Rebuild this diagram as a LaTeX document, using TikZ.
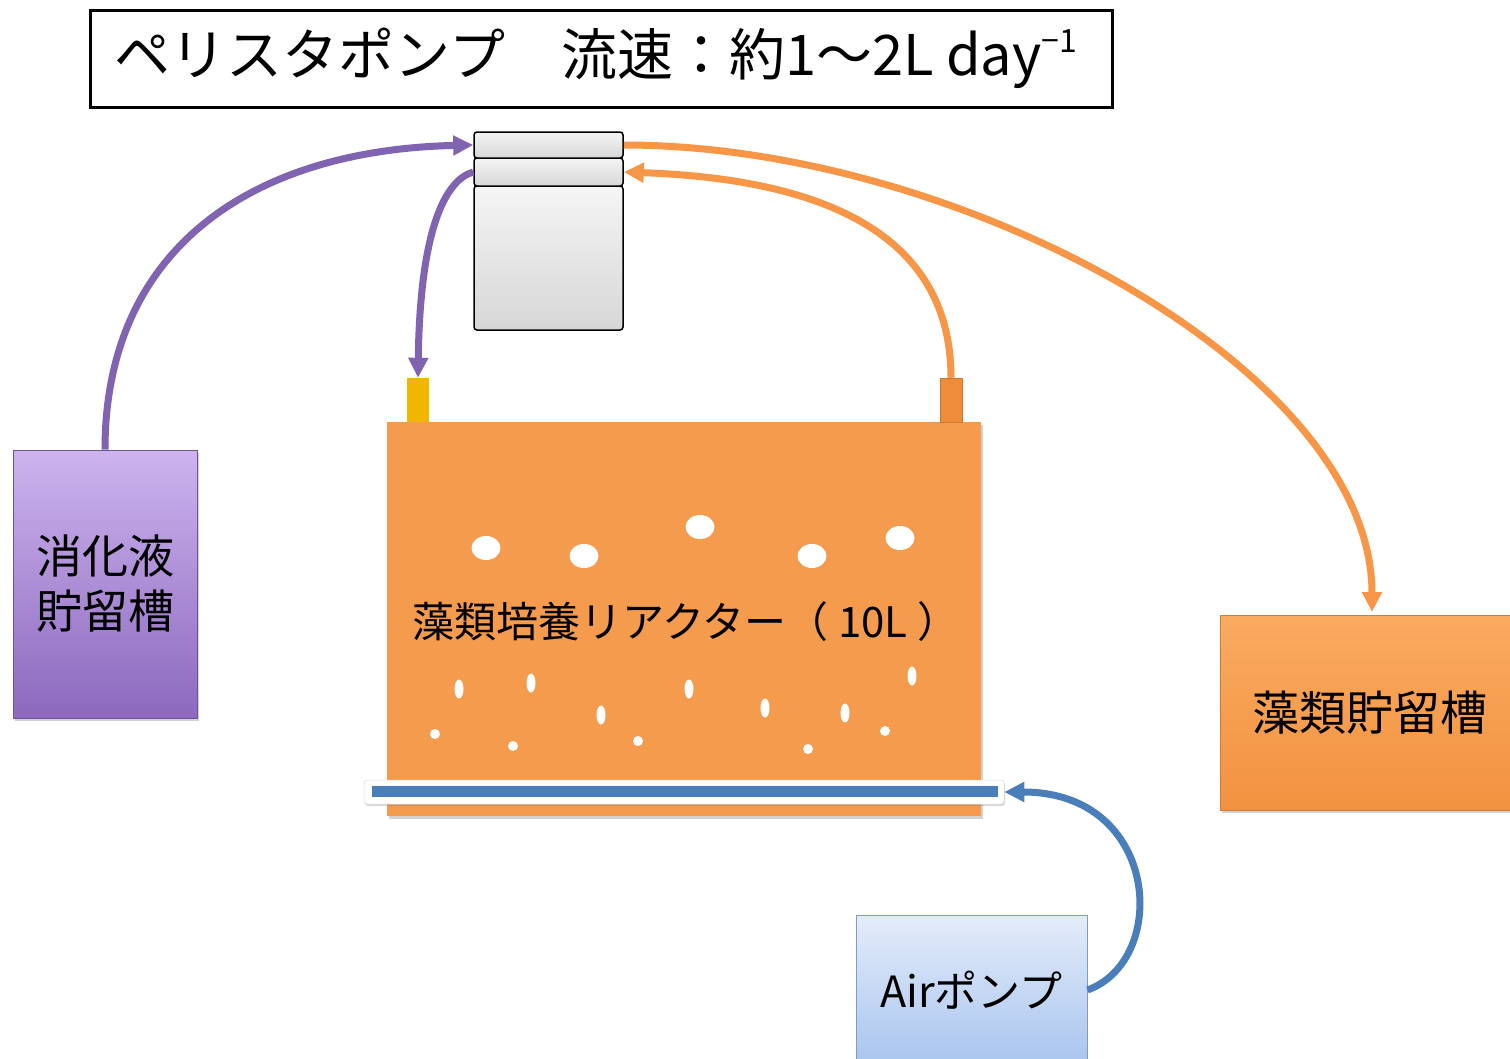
\documentclass[tikz,border=0pt]{standalone}
\usepackage{fontspec}
\setmainfont{Noto Sans CJK JP}
\usetikzlibrary{arrows.meta,shadows}
\definecolor{purp}{RGB}{128,100,178}
\definecolor{purpTop}{RGB}{204,180,238}
\definecolor{purpBot}{RGB}{140,104,190}
\definecolor{orng}{RGB}{247,150,70}
\definecolor{orngFill}{RGB}{245,155,77}
\definecolor{orngTop}{RGB}{250,170,95}
\definecolor{orngBot}{RGB}{242,146,64}
\definecolor{yconnC}{RGB}{242,182,0}
\definecolor{oconnC}{RGB}{238,140,58}
\definecolor{blu}{RGB}{74,126,187}
\definecolor{airTop}{RGB}{228,236,250}
\definecolor{airBot}{RGB}{168,196,238}
\definecolor{airEdge}{RGB}{127,156,201}
\begin{document}
\begin{tikzpicture}[x=1pt,y=-1pt,
  flow/.style={line width=7pt,-{Triangle[length=20pt,width=19pt]}},
  pumpseg/.style={draw=black,line width=1.5pt,rounded corners=3pt,top color=gray!8,bottom color=gray!32,minimum width=149pt,inner sep=0pt},
  tankbox/.style={inner sep=0pt,drop shadow={shadow xshift=2pt,shadow yshift=-3pt,opacity=0.35}},
]
\clip (0,0) rectangle (1510,1058);
\fill[white] (0,0) rectangle (1510,1058);

% title
\node[draw=black,line width=3pt,minimum width=1022pt,minimum height=97pt,inner sep=0pt] (title) at (601,58.5) {};
\node[font=\fontsize{56}{64}\selectfont,inner sep=0pt] (titletext) at (596,58.5)
  {ペリスタポンプ　流速：約1～2L day\raisebox{0.42em}{\fontsize{32}{32}\selectfont −1}};

% peristaltic pump
\node[pumpseg,minimum height=144pt] (pbody) at (548.5,258) {};
\node[pumpseg,minimum height=28pt] (pseg2) at (548.5,172) {};
\node[pumpseg,minimum height=26pt] (pseg1) at (548.5,145) {};

% left tank
\node[tankbox,draw=purpBot!80!black,line width=0.6pt,top color=purpTop,bottom color=purpBot,
  minimum width=184pt,minimum height=268pt,align=center,
  font=\fontsize{46}{55}\selectfont] (ltank) at (105,584) {消化液\\貯留槽};

% right tank
\node[tankbox,draw=orngBot!85!black,line width=0.6pt,top color=orngTop,bottom color=orngBot,
  minimum width=300pt,minimum height=195pt,
  font=\fontsize{47}{55}\selectfont] (rtank) at (1370,712.5) {藻類貯留槽};

% reactor
\node[tankbox,fill=orngFill,minimum width=594pt,minimum height=394pt] (reactor) at (684,619) {};
\node[font=\fontsize{42}{48}\selectfont,inner sep=0pt] (rlabel) at (686,622) {藻類培養リアクター（ 10L ）};
\node[fill=yconnC,minimum width=22pt,minimum height=44pt,inner sep=0pt] (yconn) at (418,400) {};
\node[fill=oconnC,draw=oconnC!85!black,line width=0.5pt,minimum width=22pt,minimum height=44pt,inner sep=0pt] (oconn) at (951,400) {};

% bubbles
\foreach \bx/\by in {486/548,584/556,700/527,812/556,900/538}
  \fill[white] (\bx,\by) ellipse [x radius=14.5pt,y radius=12pt];
\foreach \bx/\by in {459/689,531/683,601/715,689/689,765/708,845/713,912/676}
  \fill[white] (\bx,\by) ellipse [x radius=4.5pt,y radius=9.5pt];
\foreach \bx/\by in {435/734,513/746,638/741,808/749,885/731}
  \fill[white] (\bx,\by) circle [radius=5pt];

% air tube
\node[fill=white,draw=gray!30,line width=0.5pt,rounded corners=3pt,minimum width=640pt,minimum height=24pt,inner sep=0pt,
  drop shadow={shadow xshift=1pt,shadow yshift=-2pt,opacity=0.3}] (tube) at (684,792) {};
\node[fill=blu,minimum width=626pt,minimum height=11pt,inner sep=0pt] (bar) at (685,791.5) {};

% air pump
\node[draw=airEdge,line width=1pt,top color=airTop,bottom color=airBot,minimum width=231pt,minimum height=150pt,
  inner sep=0pt,font=\fontsize{43}{50}\selectfont] (airpump) at (971.5,990) {Airポンプ};

% connectors
\draw[flow,purp] (ltank.north) .. controls (105,250) and (250,150) .. (pseg1.west);
\draw[flow,purp] (pseg2.west) .. controls (445,180) and (420,230) .. (yconn.north);
\draw[flow,orng] (pseg1.east) .. controls (960,145) and (1372,370) .. (1372,612);
\draw[flow,orng] (oconn.north) .. controls (951,250) and (850,180) .. (pseg2.east);
\draw[flow,blu] (airpump.east) .. controls (1170,960) and (1160,792) .. (tube.east);
\end{tikzpicture}
\end{document}
